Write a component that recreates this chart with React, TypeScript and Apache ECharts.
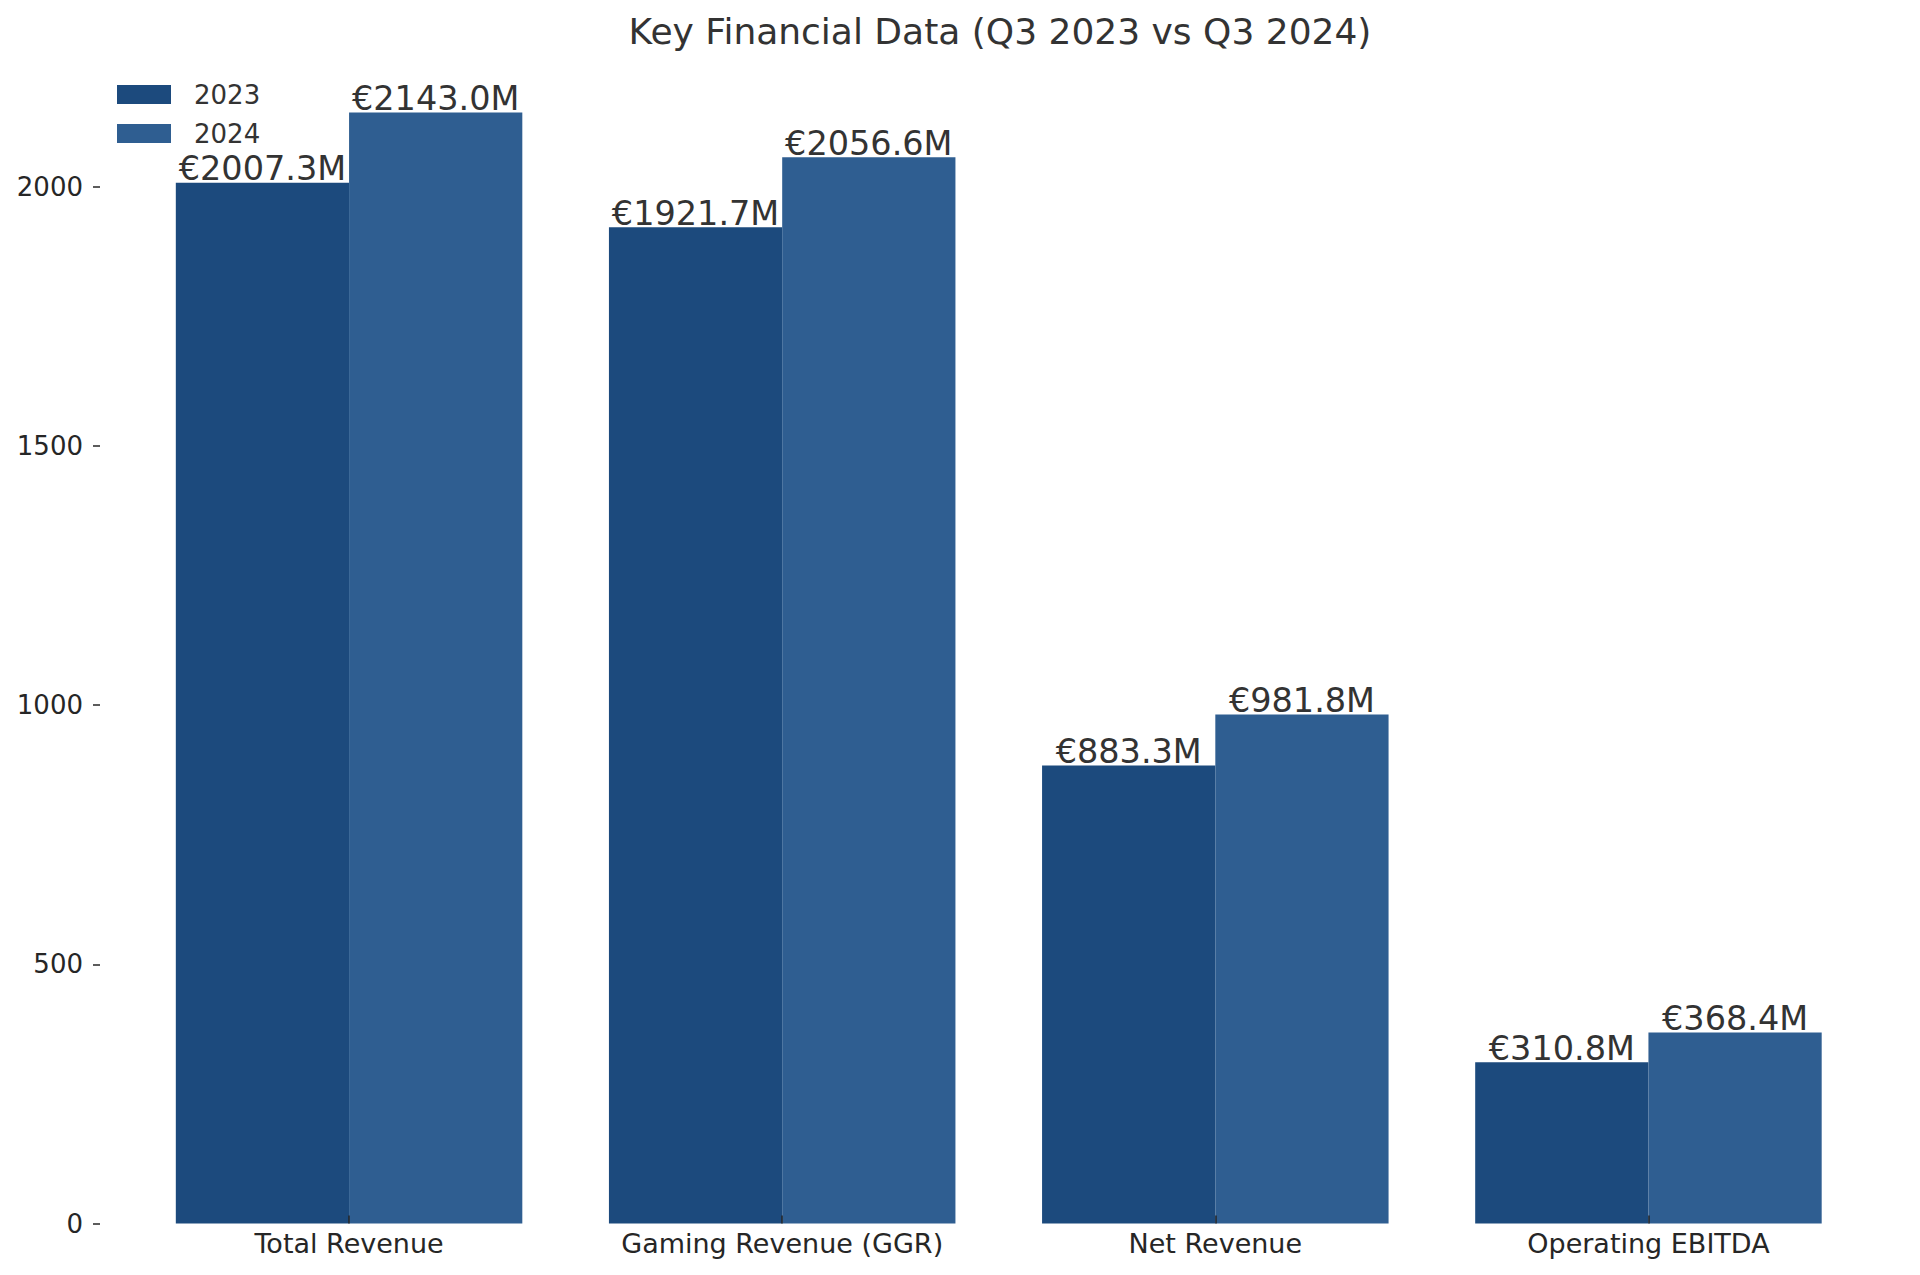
import React, { useEffect, useRef } from "react";
import * as echarts from "echarts";

const categories = ["Total Revenue", "Gaming Revenue (GGR)", "Net Revenue", "Operating EBITDA"];
const values2023 = [2007.3, 1921.7, 883.3, 310.8];
const values2024 = [2143.0, 2056.6, 981.8, 368.4];
const yTicks = [0, 500, 1000, 1500, 2000];
const seriesNames = ["2023", "2024"];
const titleText = "Key Financial Data (Q3 2023 vs Q3 2024)";

const FONT = "DejaVu Sans";

export default function App() {
  const ref = useRef<HTMLDivElement>(null);
  useEffect(() => {
    if (!ref.current) return;
    const chart = echarts.init(ref.current, undefined, { renderer: "svg" });
    const label = {
      show: true,
      position: "top",
      distance: -3,
      fontFamily: FONT,
      fontSize: 33.5,
      color: "#333333",
      formatter: (p: any) => "€" + Number(p.value).toFixed(1) + "M",
    };
    chart.setOption({
      animation: false,
      backgroundColor: "#ffffff",
      title: {
        text: titleText,
        left: 995,
        top: 8,
        textAlign: "center",
        textStyle: { fontFamily: FONT, fontSize: 36, fontWeight: "normal", color: "#333333" },
      },
      legend: {
        orient: "vertical",
        left: 117,
        top: 81.5,
        padding: 0,
        itemWidth: 54,
        itemHeight: 19,
        itemGap: 13,
        icon: "rect",
        textStyle: { fontFamily: FONT, fontSize: 26, color: "#333333", lineHeight: 26, padding: [0, 0, 0, 18] },
        data: seriesNames,
      },
      grid: { left: 132.5, right: 55, top: 57, bottom: 51.5, containLabel: false },
      xAxis: {
        type: "category",
        data: categories,
        z: 10,
        axisLine: { show: false },
        axisTick: { show: true, inside: true, length: 8, alignWithLabel: true, lineStyle: { color: "#262626", width: 1.5 } },
        axisLabel: { fontFamily: FONT, fontSize: 27, color: "#262626", margin: 6 },
        splitLine: { show: false },
      },
      yAxis: {
        type: "value",
        min: 0,
        max: 2250,
        interval: 500,
        offset: 32.5,
        axisLine: { show: false },
        axisTick: { show: true, length: 7, customValues: yTicks, lineStyle: { color: "#262626", width: 1.5 } },
        axisLabel: {
          fontFamily: FONT,
          fontSize: 26,
          color: "#262626",
          margin: 17,
          customValues: yTicks,
          formatter: (v: number) => String(v),
        },
        splitLine: { show: false },
      },
      series: [
        {
          name: seriesNames[0],
          type: "bar",
          data: values2023,
          barGap: "0%",
          barCategoryGap: "20%",
          itemStyle: { color: "#1c4a7d" },
          label,
        },
        {
          name: seriesNames[1],
          type: "bar",
          data: values2024,
          barGap: "0%",
          barCategoryGap: "20%",
          itemStyle: { color: "#2f5e91" },
          label,
        },
      ],
    });
    return () => chart.dispose();
  }, []);
  return (
    <div
      ref={ref}
      style={{ position: "absolute", left: 0, top: 0, width: 1920, height: 1275, background: "#ffffff" }}
    />
  );
}
